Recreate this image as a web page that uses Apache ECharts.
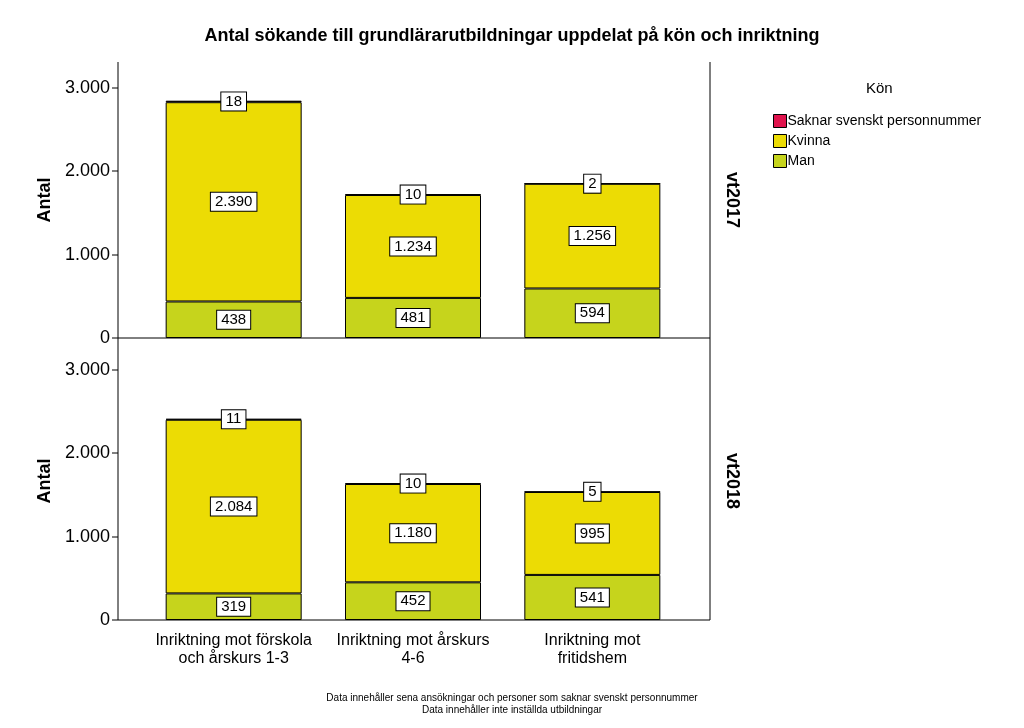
<!DOCTYPE html>
<html><head><meta charset="utf-8">
<script src="https://cdn.jsdelivr.net/npm/echarts@6/dist/echarts.min.js"></script>
<style>body{margin:0;background:#fff}#c{width:1024px;height:728px}</style>
</head><body><div id="c"></div>
<script>
const categories = ["Inriktning mot förskola\noch årskurs 1-3", "Inriktning mot årskurs\n4-6", "Inriktning mot\nfritidshem"];
const panels = ["vt2017", "vt2018"];
const man = [[438, 481, 594], [319, 452, 541]];
const kvinna = [[2390, 1234, 1256], [2084, 1180, 995]];
const saknar = [[18, 10, 2], [11, 10, 5]];
const fmt = v => String(v).replace(/\B(?=(\d{3})+(?!\d))/g, ".");

const chart = echarts.init(document.getElementById("c"));
const grids = [
  { left: 144, width: 538, top: 62, height: 276 },
  { left: 144, width: 538, top: 342, height: 278 }
];
const lbl = {
  show: true, position: "inside", color: "#000", fontSize: 15, fontFamily: "Liberation Sans",
  backgroundColor: "#fff", borderColor: "#000", borderWidth: 1, padding: [2, 4, 1, 4],
  formatter: p => fmt(p.value)
};
const series = [];
panels.forEach((p, i) => {
  [["Man", man[i], "#c6d41c"], ["Kvinna", kvinna[i], "#ecdc04"], ["Saknar svenskt personnummer", saknar[i], "#e0134d"]]
    .forEach(([name, data, color]) => series.push({
      name, type: "bar", stack: "s" + i, xAxisIndex: i, yAxisIndex: i, data, barWidth: 136,
      itemStyle: { color, borderColor: "#000", borderWidth: 1 }, label: lbl
    }));
});
const yAx = (i, max) => ({
  gridIndex: i, type: "value", min: 0, max, interval: 1000,
  name: "Antal", nameLocation: "middle", nameGap: 90, nameRotate: 90,
  nameTextStyle: { fontSize: 18, fontWeight: "bold", color: "#000", fontFamily: "Liberation Sans" },
  axisLine: { show: false }, axisTick: { show: false }, splitLine: { show: false },
  axisLabel: { margin: 34, fontSize: 18, color: "#000", fontFamily: "Liberation Sans", showMaxLabel: false, formatter: fmt }
});
const xAx = (i, show) => ({
  gridIndex: i, type: "category", data: categories,
  axisLine: { show: false }, axisTick: { show: false },
  axisLabel: { show, fontSize: 16, color: "#000", fontFamily: "Liberation Sans", lineHeight: 18, margin: 12, interval: 0 }
});
const line = (x1, y1, x2, y2) => ({ type: "line", shape: { x1, y1, x2, y2 }, style: { stroke: "#000", lineWidth: 1 } });
const tick = y => line(112, y, 118, y);
chart.setOption({
  animation: false,
  title: {
    text: "Antal sökande till grundlärarutbildningar uppdelat på kön och inriktning",
    left: "center", top: 22,
    textStyle: { fontSize: 18, fontWeight: "bold", color: "#000", fontFamily: "Liberation Sans" }
  },
  legend: {
    orient: "vertical", left: 768, top: 109, icon: "rect", itemWidth: 13, itemHeight: 13, itemGap: 6,
    data: ["Saknar svenskt personnummer", "Kvinna", "Man"],
    textStyle: { fontSize: 14, color: "#000", fontFamily: "Liberation Sans", padding: [0, 0, 0, -4] },
    itemStyle: { borderColor: "#000", borderWidth: 1 }
  },
  grid: grids,
  xAxis: [xAx(0, false), xAx(1, true)],
  yAxis: [yAx(0, 3310), yAx(1, 3336)],
  series,
  graphic: [
    line(118, 62, 118, 620), line(710, 62, 710, 620),
    line(118, 338, 710, 338), line(118, 620, 710, 620),
    tick(88), tick(171), tick(255), tick(338), tick(370), tick(453), tick(537), tick(620),
    { type: "text", left: 866, top: 81, style: { text: "Kön", fontSize: 15, fill: "#000", fontFamily: "Liberation Sans" } },
    { type: "text", x: 732, y: 200, rotation: -Math.PI / 2, style: { text: panels[0], fontSize: 18, fontWeight: "bold", fill: "#000", fontFamily: "Liberation Sans", align: "center", verticalAlign: "middle" } },
    { type: "text", x: 732, y: 481, rotation: -Math.PI / 2, style: { text: panels[1], fontSize: 18, fontWeight: "bold", fill: "#000", fontFamily: "Liberation Sans", align: "center", verticalAlign: "middle" } },
    { type: "text", x: 512, y: 692, style: { text: "Data innehåller sena ansökningar och personer som saknar svenskt personnummer\nData innehåller inte inställda utbildningar", fontSize: 10, lineHeight: 12, fill: "#000", fontFamily: "Liberation Sans", align: "center" } }
  ]
});
</script></body></html>
